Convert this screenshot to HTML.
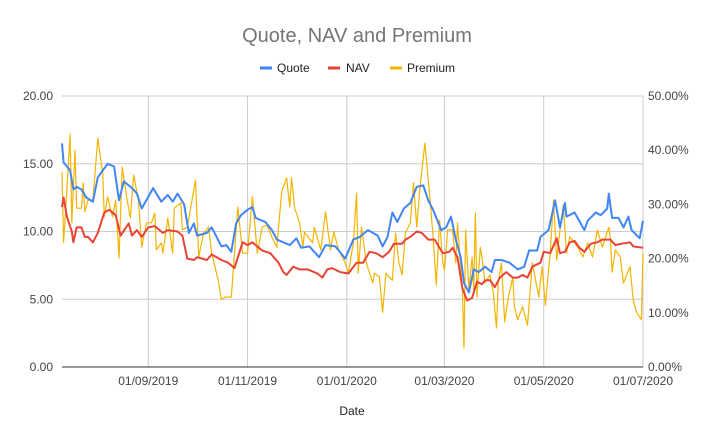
<!DOCTYPE html>
<html><head><meta charset="utf-8"><style>
body{margin:0;background:#fff;font-family:"Liberation Sans",Arial,sans-serif}
svg{display:block}
</style></head><body>
<svg id="chart" width="714" height="441" xmlns="http://www.w3.org/2000/svg">
<rect width="714" height="441" fill="#fff"/>
<text x="357" y="42" text-anchor="middle" font-size="20" fill="#757575">Quote, NAV and Premium</text>
<g font-size="12" fill="#222">
 <g><line x1="260" y1="68" x2="272" y2="68" stroke="#4285F4" stroke-width="3"/><text x="277" y="72">Quote</text></g>
 <g><line x1="328" y1="68" x2="340" y2="68" stroke="#EA4335" stroke-width="3"/><text x="346" y="72">NAV</text></g>
 <g><line x1="390" y1="68" x2="402" y2="68" stroke="#F4B400" stroke-width="3"/><text x="407" y="72">Premium</text></g>
</g>
<g id="grid"></g>
<g id="series"></g>
<g id="axes"></g>
<text x="352" y="415" text-anchor="middle" font-size="12" fill="#222">Date</text>
</svg>
<script>
const leftTicks=[0,5,10,15,20];
const leftTickLabels=["0.00","5.00","10.00","15.00","20.00"];
const rightTicks=[0,10,20,30,40,50];
const rightTickLabels=["0.00%","10.00%","20.00%","30.00%","40.00%","50.00%"];
const xTickDays=[53,114,175,235,296,357];
const xTickLabels=["01/09/2019","01/11/2019","01/01/2020","01/03/2020","01/05/2020","01/07/2020"];
const quoteDays=[0,1,5,7,9,12,15,19,22,28,32,35,38,43,46,49,56,61,65,68,71,75,78,81,83,89,92,98,101,104,107,110,114,117,119,125,129,132,140,144,147,152,158,162,168,174,179,183,188,194,197,200,203,206,210,214,218,222,225,228,233,236,239,242,245,247,250,253,256,260,264,266,270,275,280,284,287,292,294,299,303,306,309,310,315,321,323,328,331,335,336,338,342,345,348,350,355,357];
const quoteVals=[16.5,15.1,14.5,13.1,13.3,13.1,12.5,12.2,14.0,15.0,14.8,12.3,13.7,13.2,12.8,11.7,13.2,12.2,12.7,12.2,12.8,12.0,9.9,10.6,9.7,9.9,10.3,8.9,9.0,8.5,10.6,11.2,11.6,11.8,11.0,10.7,10.1,9.4,9.0,9.5,8.8,8.9,8.1,9.0,8.9,8.0,9.4,9.6,10.1,9.7,8.9,9.6,11.4,10.7,11.7,12.1,13.3,13.4,12.3,11.6,10.1,10.3,11.1,9.4,8.1,6.2,5.5,7.2,7.0,7.4,7.0,7.9,7.9,7.7,7.2,7.4,8.6,8.6,9.6,10.1,12.3,10.3,12.1,11.1,11.4,10.1,10.8,11.4,11.2,11.7,12.8,11.0,11.0,10.3,11.1,10.1,9.5,10.8];
const navDays=[0,1,3,6,7,9,12,14,16,19,22,26,29,33,36,41,43,46,49,53,57,62,65,71,74,77,81,83,89,92,98,102,106,111,114,117,123,128,133,136,138,142,146,151,157,160,163,166,171,176,181,185,189,193,197,201,204,209,211,214,218,221,225,229,234,238,240,243,246,249,252,255,258,260,263,266,269,273,277,280,283,286,289,294,296,300,304,306,309,312,315,318,321,325,329,332,337,340,344,349,351,357];
const navVals=[11.8,12.5,11.1,10.0,9.2,10.3,10.3,9.6,9.6,9.2,9.9,11.4,11.6,11.2,9.7,10.6,9.7,10.1,9.6,10.3,10.4,9.9,10.1,10.0,9.7,8.0,7.9,8.1,7.9,8.3,7.9,7.7,7.3,9.2,9.0,9.2,8.6,8.4,7.7,7.0,6.8,7.4,7.2,7.2,6.9,6.6,7.2,7.3,7.0,6.9,7.7,7.7,8.5,8.4,8.1,8.5,9.1,9.1,9.4,9.6,10.0,9.9,9.4,9.4,8.4,8.5,8.8,8.1,5.8,4.9,5.1,6.3,6.1,6.4,6.4,5.9,6.6,7.0,6.6,6.6,6.8,6.6,7.4,7.7,8.5,8.4,9.5,8.4,8.5,9.2,9.3,8.8,8.5,9.1,9.2,9.4,9.4,9.0,9.1,9.2,8.9,8.8];
const premDays=[0,1,3,5,6,8,9,12,13,14,16,19,22,25,26,28,31,33,35,37,40,42,44,47,49,52,55,57,58,61,62,65,68,69,73,74,77,82,84,87,90,92,96,98,100,104,108,111,114,117,120,123,126,129,132,135,138,140,141,143,146,148,149,154,155,159,162,165,167,170,174,176,179,181,182,184,187,191,192,195,197,199,203,205,207,209,211,214,216,218,220,223,226,228,230,232,234,235,237,240,242,243,246,247,248,250,252,253,254,255,257,258,260,263,265,267,268,270,272,274,277,278,280,283,286,288,289,293,295,297,300,302,304,306,308,310,312,317,320,323,326,329,332,336,337,338,340,343,345,349,351,353,356,357];
const premVals=[36,23,32.7,43,26.6,40,29.3,29.3,34,28.6,30.8,30.8,42.2,35.8,27.7,31.4,27.7,30.8,20.1,36.9,30.8,27.5,35.4,30.8,22.1,26.6,26.6,28.4,21.6,22.9,21,27.5,21,29.3,30.3,25.3,25.8,34.5,20.3,24.7,25.8,21,16,12.4,12.9,12.9,29.5,21,21,31.4,21,25.8,26.2,24,22.1,32.3,34.9,29.5,34.9,29.3,26.6,22.1,24.9,22.9,25.8,21.6,28.6,21.6,24.9,21.6,19.2,17.3,22.9,32.1,17.3,25.8,19.2,15.5,17.3,16.6,10.1,17.3,16,24.7,19.2,17,24.7,26.6,34,25.8,33.2,41.3,31.4,24,15.1,27.1,19.2,17.9,25.3,25.3,19.2,26.6,14.2,3.5,25.3,14.2,20.3,14.2,28.4,12.9,22.1,20.3,15.5,17,13.7,7.2,15.5,19.2,8.3,12.4,16.6,11.1,8.7,11.1,7.7,15.5,19.2,12.9,18.5,11.4,21,30.8,19.7,25.3,29.9,21,24,22.1,20.3,22.9,20.3,25.3,22.1,25.8,23.4,17.5,21.6,20.3,15.5,18.5,12.4,10.1,8.7,21];

const NS="http://www.w3.org/2000/svg";
const L=62,R=643,T=96,B=367,DMAX=357,LMAX=20,RMAX=50;
const xS=d=>L+d/DMAX*(R-L);
const yL=v=>B-v/LMAX*(B-T);
const yR=v=>B-v/RMAX*(B-T);
function mk(tag,attrs,parent){const e=document.createElementNS(NS,tag);for(const k in attrs)e.setAttribute(k,attrs[k]);parent.appendChild(e);return e;}
const grid=document.getElementById('grid'),axes=document.getElementById('axes'),ser=document.getElementById('series');
leftTicks.forEach((v,i)=>{
  if(v>0){const g=mk('line',{x1:L,x2:R,y1:yL(v),y2:yL(v),stroke:'#ccc','stroke-width':1},grid);
  
  }
  const t=mk('text',{x:53,y:yL(v)+4,'text-anchor':'end','font-size':12,fill:'#444'},axes);t.textContent=leftTickLabels[i];
  
  
});
rightTicks.forEach((v,i)=>{
  const t=mk('text',{x:648,y:yR(v)+4,'font-size':12,fill:'#444'},axes);t.textContent=rightTickLabels[i];
  
  
});
xTickDays.forEach((d,i)=>{
  const g=mk('line',{x1:xS(d),x2:xS(d),y1:T,y2:B,stroke:'#ccc','stroke-width':1},grid);
  
  
  const t=mk('text',{x:xS(d),y:385,'text-anchor':'middle','font-size':12,fill:'#444'},axes);t.textContent=xTickLabels[i];
  
  
});
const base=mk('line',{x1:L,x2:R,y1:B,y2:B,stroke:'#333','stroke-width':1},axes);


function line(days,vals,yf,color,w,name){
  const n=Math.min(days.length,vals.length);let d='';
  for(let i=0;i<n;i++)d+=(i?'L':'M')+xS(days[i]).toFixed(1)+','+yf(vals[i]).toFixed(1);
  const p=mk('path',{d:d,fill:'none',stroke:color,'stroke-width':w,'stroke-linejoin':'round'},ser);
  
  
}
line(premDays,premVals,yR,'#F4B400',1.2,'premium-line');
line(navDays,navVals,yL,'#EA4335',2,'nav-line');
line(quoteDays,quoteVals,yL,'#4285F4',2,'quote-line');
</script>
</body></html>
